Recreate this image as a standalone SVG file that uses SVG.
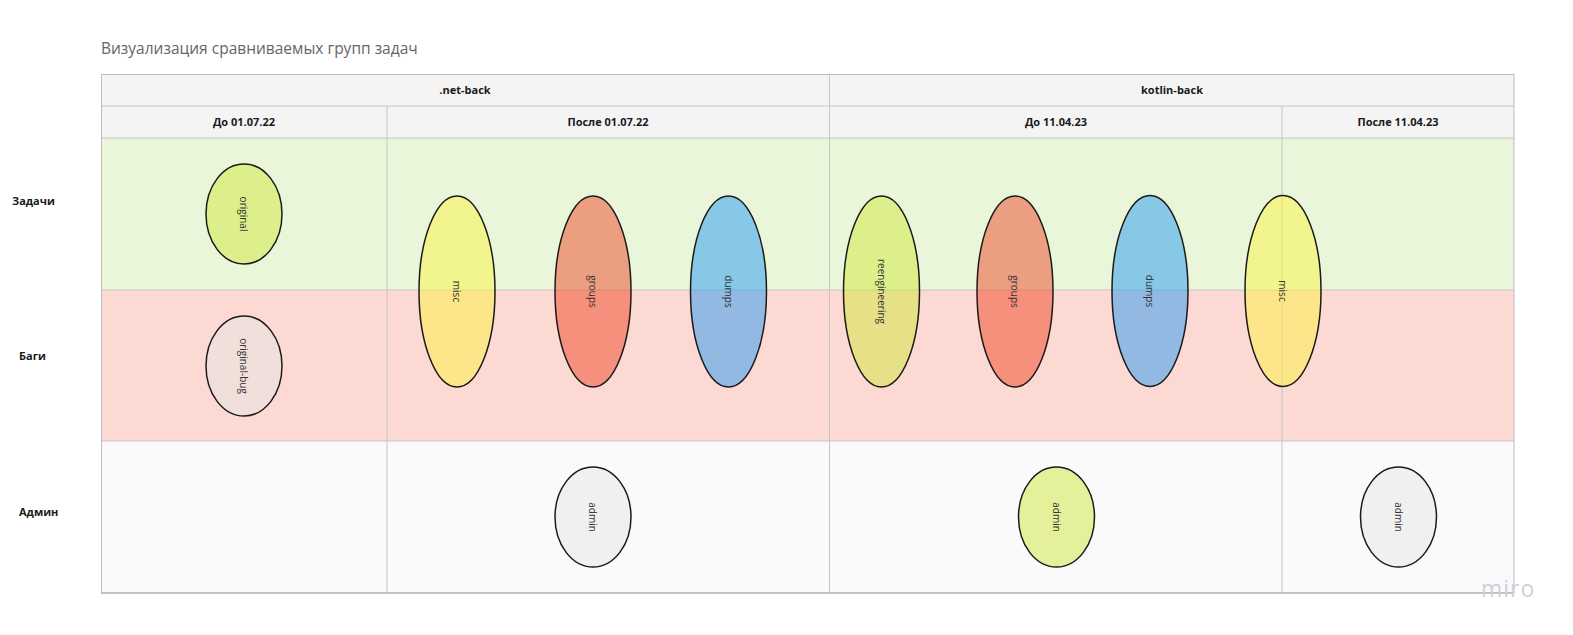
<svg xmlns="http://www.w3.org/2000/svg" width="1573" height="635" viewBox="0 0 1573 635">
<style>
.t{font-family:"Open Sans","Noto Sans",sans-serif;}
.h{font-family:"Open Sans","Noto Sans",sans-serif;font-weight:bold;font-size:11px;fill:#1a1a1a;text-anchor:middle;}
.rl{font-family:"Open Sans","Noto Sans",sans-serif;font-weight:bold;font-size:11px;fill:#1a1a1a;}
.g{stroke:#c6c6c6;stroke-width:1;fill:none;}
.e{stroke:#1a1a1a;stroke-width:1.5;fill-opacity:0.5;}
.lb{font-family:"Open Sans","Noto Sans",sans-serif;font-size:10px;fill:#333;text-anchor:middle;dominant-baseline:central;}
.gr{fill:#cfe83a;}
.ye{fill:#fbf440;}
.re{fill:#ef4626;}
.bl{fill:#259af2;}
.gy{fill:#e6e6e6;}
</style>
<rect width="1573" height="635" fill="#ffffff"/>
<text class="t" x="101" y="54" font-size="15.5" fill="#666">Визуализация сравниваемых групп задач</text>
<g id="table">
<rect x="101" y="74" width="1413" height="64" fill="#f4f4f4"/>
<rect x="101" y="138" width="1413" height="152" fill="#e9f6da"/>
<rect x="101" y="290" width="1413" height="151" fill="#fdd9d3"/>
<rect x="101" y="441" width="1413" height="152" fill="#fafafa"/>
<line class="g" x1="101" y1="106" x2="1514" y2="106"/>
<line class="g" x1="101" y1="138" x2="1514" y2="138"/>
<line class="g" x1="101" y1="290" x2="1514" y2="290"/>
<line class="g" x1="101" y1="441" x2="1514" y2="441"/>
<line class="g" x1="387" y1="106" x2="387" y2="593"/>
<line class="g" x1="829.5" y1="74" x2="829.5" y2="593"/>
<line class="g" x1="1282" y1="106" x2="1282" y2="593"/>
<rect x="101.5" y="74.5" width="1412.5" height="518.5" fill="none" stroke="#bdbdbd" stroke-width="1"/>
<line x1="101" y1="593" x2="1514" y2="593" stroke="#b8b8b8" stroke-width="1.5"/>
<text class="h" x="465" y="94">.net-back</text>
<text class="h" x="1172" y="94">kotlin-back</text>
<text class="h" x="244" y="126">До 01.07.22</text>
<text class="h" x="608" y="126">После 01.07.22</text>
<text class="h" x="1056" y="126">До 11.04.23</text>
<text class="h" x="1398" y="126">После 11.04.23</text>
</g>
<g id="row-labels">
<text class="rl" x="12" y="205">Задачи</text>
<text class="rl" x="19" y="360">Баги</text>
<text class="rl" x="19" y="516">Админ</text>
</g>
<g id="connectors"></g>
<g id="n-original"><ellipse class="e gr" cx="244" cy="214" rx="38" ry="50"/><text class="lb" transform="translate(244,214) rotate(90)">original</text></g>
<g id="n-original-bug"><ellipse class="e gy" cx="244" cy="366" rx="38" ry="50"/><text class="lb" transform="translate(244,366) rotate(90)">original-bug</text></g>
<g id="n-misc1"><ellipse class="e ye" cx="457" cy="291.5" rx="38" ry="95.5"/><text class="lb" transform="translate(457,291.5) rotate(90)">misc</text></g>
<g id="n-groups1"><ellipse class="e re" cx="593" cy="291.5" rx="38" ry="95.5"/><text class="lb" transform="translate(593,291.5) rotate(90)">groups</text></g>
<g id="n-dumps1"><ellipse class="e bl" cx="728.5" cy="291.5" rx="38" ry="95.5"/><text class="lb" transform="translate(728.5,291.5) rotate(90)">dumps</text></g>
<g id="n-reengineering"><ellipse class="e gr" cx="881.5" cy="291.5" rx="38" ry="95.5"/><text class="lb" transform="translate(881.5,291.5) rotate(90)">reengineering</text></g>
<g id="n-groups2"><ellipse class="e re" cx="1015" cy="291.5" rx="38" ry="95.5"/><text class="lb" transform="translate(1015,291.5) rotate(90)">groups</text></g>
<g id="n-dumps2"><ellipse class="e bl" cx="1150" cy="291" rx="38" ry="95.5"/><text class="lb" transform="translate(1150,291) rotate(90)">dumps</text></g>
<g id="n-misc2"><ellipse class="e ye" cx="1283" cy="291" rx="38" ry="95.5"/><text class="lb" transform="translate(1283,291) rotate(90)">misc</text></g>
<g id="n-admin1"><ellipse class="e gy" cx="593" cy="517" rx="38" ry="50"/><text class="lb" transform="translate(593,517) rotate(90)">admin</text></g>
<g id="n-admin2"><ellipse class="e gr" cx="1056.5" cy="517" rx="38" ry="50"/><text class="lb" transform="translate(1056.5,517) rotate(90)">admin</text></g>
<g id="n-admin3"><ellipse class="e gy" cx="1398.5" cy="517" rx="38" ry="50"/><text class="lb" transform="translate(1398.5,517) rotate(90)">admin</text></g>
<text class="t" x="1481" y="597" font-size="23" fill="#cdd0dc" letter-spacing="1">miro</text>
</svg>
